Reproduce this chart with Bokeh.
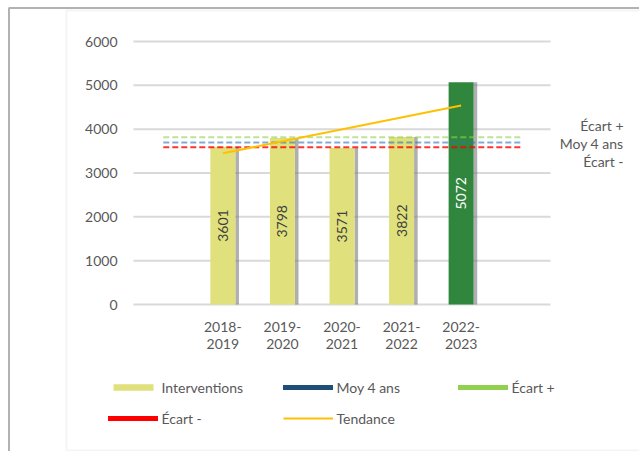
from bokeh.plotting import figure
from bokeh.models import (Range1d, FixedTicker, BoxAnnotation, Label, Legend,
                          LegendItem, ColumnDataSource)
from bokeh.core.properties import value
from bokeh.embed import file_html
from bokeh.resources import INLINE
import math

# ---- data ----
periods = ["2018-2019", "2019-2020", "2020-2021", "2021-2022", "2022-2023"]
interventions = [3601, 3798, 3571, 3822, 5072]
moy_4_ans = 3698
ecart_plus = 3815
ecart_minus = 3590
tendance = [3450, 4540]          # trend at first and last period
y_ticks = [0, 1000, 2000, 3000, 4000, 5000, 6000]
side_labels = ["Écart +", "Moy 4 ans", "Écart -"]
side_label_y = [4084, 3680, 3270]

FONT = "Lato"
TXT = "#595959"
YELLOW = "#E0E17C"
GREEN = "#31863E"

n = len(periods)
xs = list(range(1, n + 1))
bar_colors = [YELLOW] * (n - 1) + [GREEN]
label_colors = ["#404040"] * (n - 1) + ["white"]

W, H = 639, 451
# pixel geometry of the plotting area
PX_X0, PX_SLOT = 133.0, 59.57       # left edge of slot area, px per slot
PX_Y0, PX_PER = 304.0, 263.0 / 6000  # y of zero, px per unit
x0 = -0.5 - PX_X0 / PX_SLOT
x1 = x0 + W / PX_SLOT
y1 = PX_Y0 / PX_PER
y0 = y1 - H / PX_PER

p = figure(width=W, height=H, output_backend="svg", toolbar_location=None,
           x_range=Range1d(x0, x1), y_range=Range1d(y0, y1), min_border=0,
           min_border_left=0, min_border_right=0, min_border_top=0,
           min_border_bottom=0)
p.outline_line_color = None
p.background_fill_color = "white"
p.border_fill_color = "white"
p.xgrid.visible = False
p.ygrid.visible = False

# axes (drawn at fixed positions inside the canvas)
p.xaxis.fixed_location = 0
p.yaxis.fixed_location = -0.5
p.xaxis.ticker = FixedTicker(ticks=xs)
p.xaxis.major_label_overrides = {x: per.replace("-", "-\n") for x, per in zip(xs, periods)}
p.yaxis.ticker = FixedTicker(ticks=y_ticks)
for ax in (p.xaxis, p.yaxis):
    ax.axis_line_color = None
    ax.major_tick_line_color = None
    ax.minor_tick_line_color = None
    ax.major_tick_out = 0
    ax.major_tick_in = 0
    ax.major_label_text_font = FONT
    ax.major_label_text_font_size = "14px"
    ax.major_label_text_color = TXT
p.xaxis.major_label_standoff = 13
p.xaxis.major_label_text_line_height = 1.0
p.yaxis.major_label_standoff = 16

# gridlines over the slot area
p.segment(x0=[-0.5] * len(y_ticks), x1=[n + 1.5] * len(y_ticks), y0=y_ticks,
          y1=y_ticks, line_color="#d9d9d9", line_width=2, level="underlay")

# frames (chart area)
p.add_layout(BoxAnnotation(left=x0 + 66 / PX_SLOT, right=x1 + 5,
                           top=y1 - 10 / PX_PER, bottom=y1 - 450 / PX_PER,
                           fill_color=None, line_color="#d9d9d9", line_width=2))
p.add_layout(BoxAnnotation(left=x0 + 8.5 / PX_SLOT, right=x1 + 5,
                           top=y1 - 7.5 / PX_PER, bottom=y0 - 5000,
                           fill_color=None, line_color="black", line_width=2))

# bars
bw = 0.42
src = ColumnDataSource(dict(x=xs, top=interventions, color=bar_colors,
                            lc=label_colors, ymid=[v / 2 for v in interventions],
                            lab=[str(v) for v in interventions],
                            sx=[x + bw / 2 + 0.03 for x in xs]))
p.vbar(x="sx", top="top", width=0.06, bottom=0, source=src,
       fill_color="#7a7a7a", fill_alpha=0.6, line_color=None)
r_bars = p.vbar(x="x", top="top", width=bw, bottom=0, source=src,
                fill_color="color", line_color=None)
p.text(x="x", y="ymid", text="lab", source=src, angle=math.pi / 2,
       text_align="center", text_baseline="middle", text_color="lc",
       text_font=value(FONT), text_font_size="14px")

# reference lines
x_line = [0, n + 1]
p.line(x_line, [ecart_plus] * 2, line_color="#92D050", line_alpha=0.6,
       line_width=2, line_dash="6 3")
p.line(x_line, [moy_4_ans] * 2, line_color="#2E75B6", line_alpha=0.6,
       line_width=2, line_dash="6 3")
p.line(x_line, [ecart_minus] * 2, line_color="#FF0000", line_alpha=0.8,
       line_width=2, line_dash="6 3")
r_t = p.line([xs[0], xs[-1]], tendance, line_color="#FFC000", line_width=2)

# right side labels
for txt, yv in zip(side_labels, side_label_y):
    p.add_layout(Label(x=x0 + 623 / PX_SLOT, y=yv, text=txt, text_align="right",
                       text_baseline="middle", text_font=FONT,
                       text_font_size="14px", text_color=TXT))

# legend-only renderers (placed outside the visible range)
off_x = [x1 + 10, x1 + 11]
off_y = [moy_4_ans, moy_4_ans]
r_int = p.vbar(x=[x1 + 10], top=[moy_4_ans], width=0.4, fill_color=YELLOW,
               line_color=None)
r_moy = p.line(off_x, off_y, line_color="#1F4E79", line_width=5, line_cap="round")
r_ep = p.line(off_x, off_y, line_color="#92D050", line_width=5, line_cap="round")
r_em = p.line(off_x, off_y, line_color="#FF0000", line_width=5, line_cap="round")
legend = Legend(items=[LegendItem(label="Interventions", renderers=[r_int]),
                       LegendItem(label="Moy 4 ans", renderers=[r_moy]),
                       LegendItem(label="Écart +", renderers=[r_ep]),
                       LegendItem(label="Écart -", renderers=[r_em]),
                       LegendItem(label="Tendance", renderers=[r_t])],
                location=(107.5, 12.5 + (H - 443)), orientation="horizontal",
                ncols=3, glyph_width=50, glyph_height=8, label_height=25,
                label_width=115, label_standoff=4, spacing=6, padding=0,
                margin=0, border_line_color=None, background_fill_alpha=0,
                label_text_font=FONT, label_text_font_size="14px",
                label_text_color=TXT)
p.add_layout(legend, "center")

open("out.html", "w").write(file_html(p, INLINE))
